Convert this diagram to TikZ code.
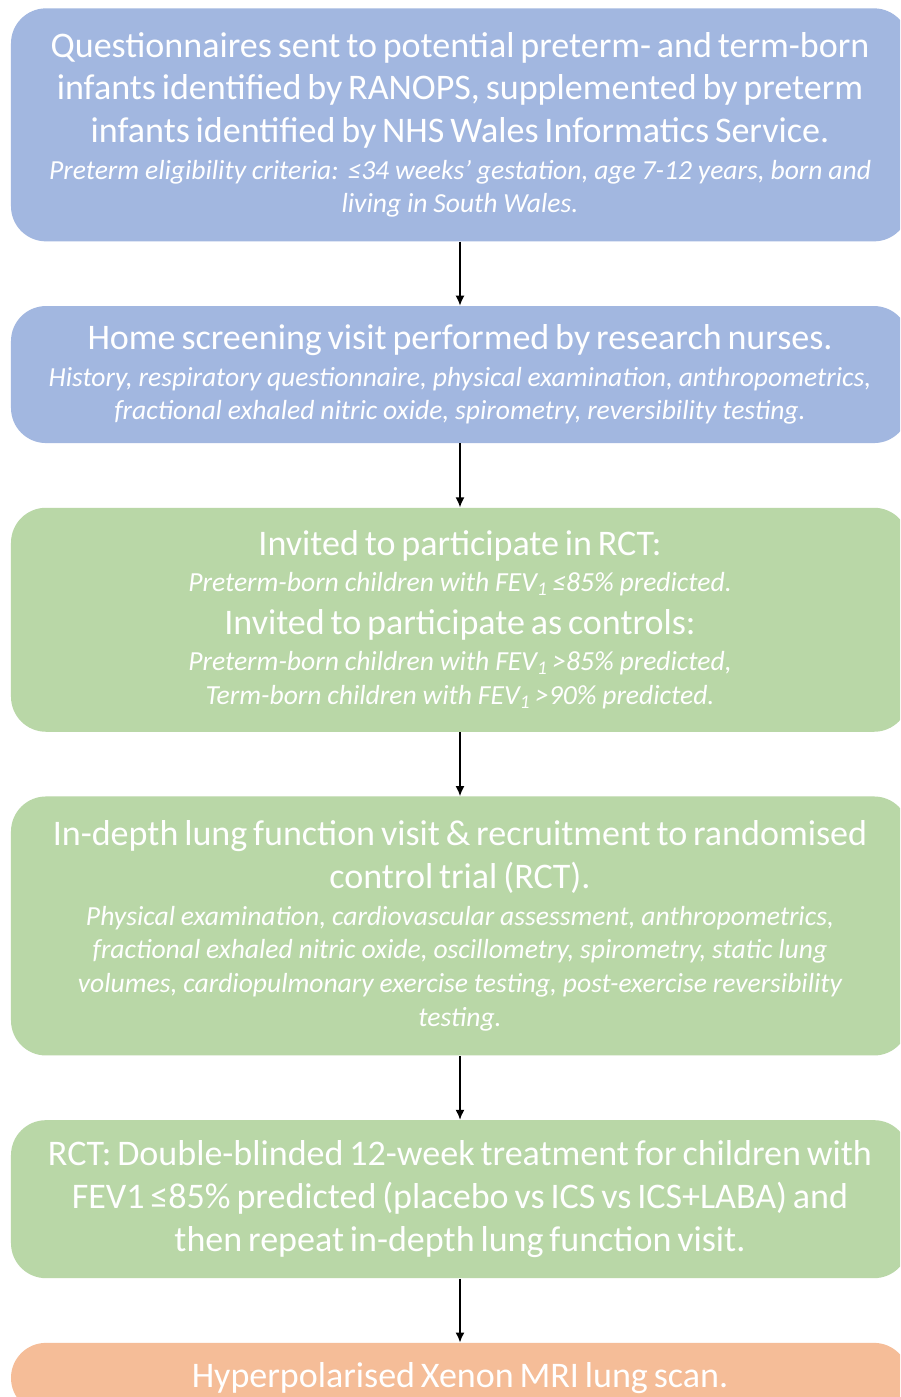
\documentclass[tikz,border=0pt]{standalone}
\usepackage{fontspec}
\setmainfont{Carlito}
\usetikzlibrary{positioning, arrows.meta}

\definecolor{stageblue}{HTML}{A2B7E0}
\definecolor{stagegreen}{HTML}{B9D7A7}
\definecolor{stageorange}{HTML}{F5BD98}

% main lines and the smaller italic notes under them
\newcommand{\lead}{\fontsize{20.5}{24.4}\selectfont}
\newcommand{\note}{\vspace{1.5pt}\fontsize{15.7}{19.2}\selectfont\itshape}

\begin{document}
\begin{tikzpicture}[
    node distance=1.28cm,
    stage/.style={
        rounded corners=0.7cm,
        text=white,
        align=center,
        text width=17.6cm,
        minimum width=17.96cm,
        inner xsep=0.18cm,
        inner ysep=0.1cm
    },
    screening/.style={stage, fill=stageblue},
    trial/.style={stage, fill=stagegreen},
    imaging/.style={stage, fill=stageorange},
    flow/.style={-{Latex[length=2mm, width=1.8mm]}, line width=0.9pt, black}
]

    \clip (0,0) rectangle (18,-27.94);
    \fill[white] (0,0) rectangle (18,-27.94);

    % Recruitment
    \node[screening, minimum height=4.66cm, anchor=north] (quest) at (9.2,-0.16) {%
        {\lead Questionnaires sent to potential preterm- and term-born\\
        infants identified by RANOPS, supplemented by preterm\\
        infants identified by NHS Wales Informatics Service.\par}
        {\note Preterm eligibility criteria: ≤34 weeks’ gestation, age 7-12 years, born and\\
        living in South Wales.\par}};

    \node[screening, minimum height=2.74cm, below=of quest] (home) {%
        {\lead Home screening visit performed by research nurses.\par}
        {\note History, respiratory questionnaire, physical examination, anthropometrics,\\
        fractional exhaled nitric oxide, spirometry, reversibility testing.\par}};

    % Invitations
    \node[trial, minimum height=4.48cm, below=of home] (invite) {%
        {\lead Invited to participate in RCT:\par}
        {\note Preterm-born children with FEV\textsubscript{1}\,≤85\% predicted.\par}
        {\lead Invited to participate as controls:\par}
        {\note Preterm-born children with FEV\textsubscript{1}\,>85\% predicted,\\
        Term-born children with FEV\textsubscript{1}\,>90\% predicted.\par}};

    \node[trial, minimum height=5.18cm, below=of invite] (visit) {%
        {\lead In-depth lung function visit \& recruitment to randomised\\
        control trial (RCT).\par}
        {\note Physical examination, cardiovascular assessment, anthropometrics,\\
        fractional exhaled nitric oxide, oscillometry, spirometry, static lung\\
        volumes, cardiopulmonary exercise testing, post-exercise reversibility\\
        testing.\par}};

    \node[trial, minimum height=3.16cm, below=of visit] (rct) {%
        {\lead RCT: Double-blinded 12-week treatment for children with\\
        FEV1 ≤85\% predicted (placebo vs ICS vs ICS+LABA) and\\
        then repeat in-depth lung function visit.\par}};

    % Imaging
    \node[imaging, minimum height=1.4cm, below=of rct] (mri) {%
        {\lead Hyperpolarised Xenon MRI lung scan.\par}};

    \draw[flow] (quest) -- (home);
    \draw[flow] (home) -- (invite);
    \draw[flow] (invite) -- (visit);
    \draw[flow] (visit) -- (rct);
    \draw[flow] (rct) -- (mri);

\end{tikzpicture}
\end{document}
